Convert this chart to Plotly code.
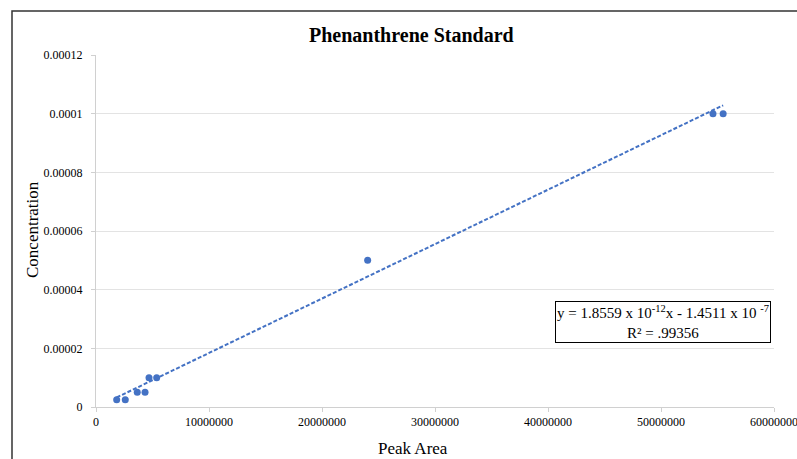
import plotly.graph_objects as go

# Data
peak_area = [1830000, 2590000, 3650000, 4340000, 4690000, 5370000, 24040000, 54600000, 55500000]
concentration = [2.5e-6, 2.5e-6, 5e-6, 5e-6, 1e-5, 1e-5, 5e-5, 1e-4, 1e-4]

# Trendline coefficients (as displayed on the chart)
slope = 1.8559e-12
intercept = -1.4511e-7

x_tick_vals = [0, 10000000, 20000000, 30000000, 40000000, 50000000, 60000000]
x_tick_text = ["0", "10000000", "20000000", "30000000", "40000000", "50000000", "60000000"]
y_tick_vals = [0, 0.00002, 0.00004, 0.00006, 0.00008, 0.0001, 0.00012]
y_tick_text = ["0", "0.00002", "0.00004", "0.00006", "0.00008", "0.0001", "0.00012"]

blue = "#4472C4"
font_family = "Liberation Serif, Times New Roman, serif"

trend_x = [min(peak_area), max(peak_area)]
trend_y = [slope * v + intercept for v in trend_x]

fig = go.Figure()
fig.add_trace(go.Scatter(
    x=peak_area, y=concentration, mode="markers",
    marker=dict(color=blue, size=7), showlegend=False, cliponaxis=False,
))
fig.add_trace(go.Scatter(
    x=trend_x, y=trend_y, mode="lines",
    line=dict(color=blue, width=2, dash="4px,2px"), showlegend=False,
))

fig.update_layout(
    width=797, height=459,
    margin=dict(l=96, r=23, t=55, b=52, autoexpand=False),
    paper_bgcolor="white", plot_bgcolor="white",
    font=dict(family=font_family, color="#000000", size=12),
    xaxis=dict(
        range=[0, 60000000], tickvals=x_tick_vals, ticktext=x_tick_text,
        showgrid=False, zeroline=False, showline=True, linecolor="#d0d0d0", linewidth=1,
        ticks="outside", ticklen=4, tickcolor="#d0d0d0",
        ticklabeloverflow="allow", automargin=False,
        tickfont=dict(family=font_family, size=12, color="#000000"),
    ),
    yaxis=dict(
        range=[0, 0.00012], tickvals=y_tick_vals, ticktext=y_tick_text,
        showgrid=True, gridcolor="#e3e3e3", gridwidth=1,
        zeroline=False, showline=True, linecolor="#d0d0d0", linewidth=1,
        ticks="outside", ticklen=4, tickcolor="#d0d0d0",
        ticklabelstandoff=6, automargin=False,
        tickfont=dict(family=font_family, size=12, color="#000000"),
    ),
    shapes=[dict(
        type="rect", xref="paper", yref="paper",
        x0=(12 - 96) / 678, x1=(805 - 96) / 678,
        y0=(407 - 470) / 352, y1=(407 - 11) / 352,
        line=dict(color="#333333", width=1.5), fillcolor="rgba(0,0,0,0)", layer="below",
    )],
    annotations=[
        dict(text="<b>Phenanthrene Standard</b>", xref="paper", yref="paper",
             x=(411 - 96) / 678, y=(407 - 35) / 352, xanchor="center", yanchor="middle",
             showarrow=False, font=dict(family=font_family, size=20, color="#000000")),
        dict(text="Peak Area", xref="paper", yref="paper",
             x=(413 - 96) / 678, y=(407 - 448) / 352, xanchor="center", yanchor="middle",
             showarrow=False, font=dict(family=font_family, size=17, color="#000000")),
        dict(text="Concentration", xref="paper", yref="paper", textangle=-90,
             x=(32 - 96) / 678, y=(407 - 230) / 352, xanchor="center", yanchor="middle",
             showarrow=False, font=dict(family=font_family, size=17, color="#000000")),
        dict(text="y = 1.8559 x 10<sup>-12</sup>x - 1.4511 x 10 <sup>-7</sup><br>R² = .99356",
             xref="paper", yref="paper", x=(662.5 - 96) / 678, y=(407 - 322) / 352,
             xanchor="center", yanchor="middle", align="center", showarrow=False,
             bordercolor="#000000", borderwidth=1, borderpad=1, bgcolor="white",
             font=dict(family=font_family, size=15, color="#000000")),
    ],
)

fig.write_html("out.html")
